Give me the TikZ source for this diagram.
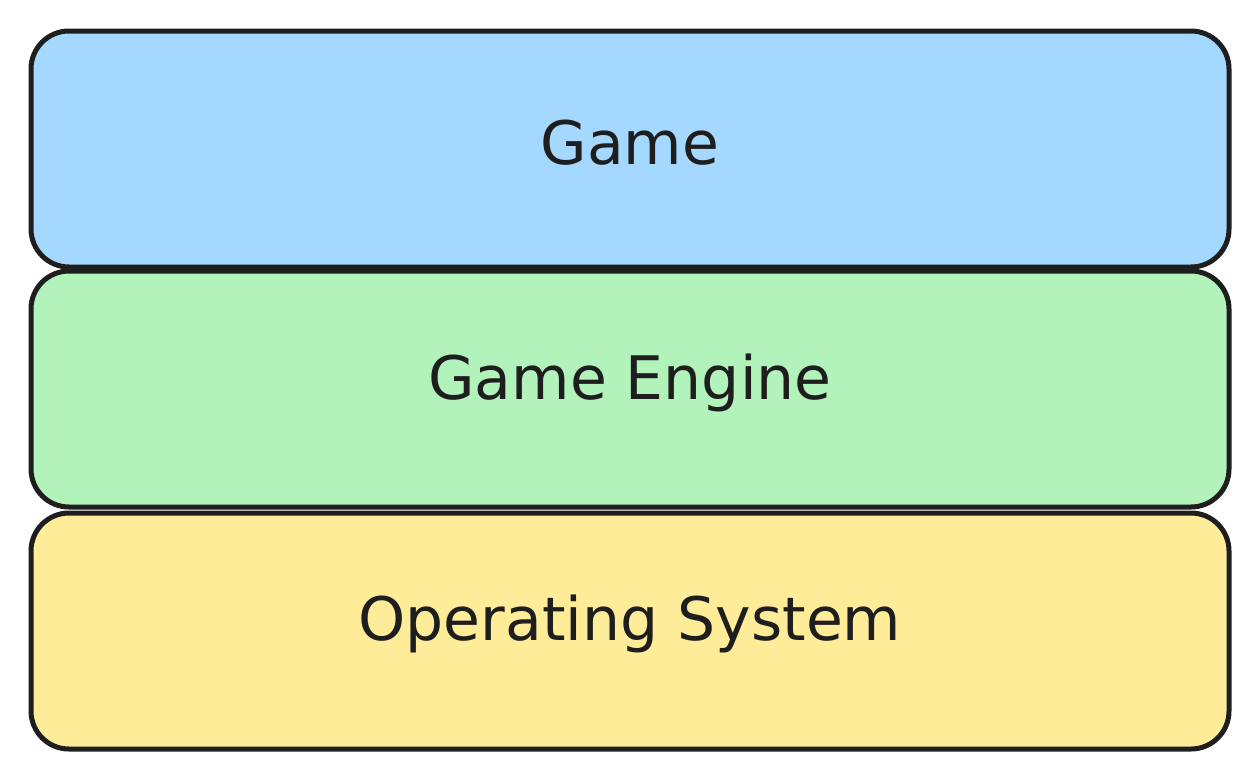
\documentclass[tikz,border=0pt]{standalone}
\usepackage{fontspec}
\setmainfont{DejaVu Sans}
\definecolor{bl}{HTML}{A5D8FF}
\definecolor{gr}{HTML}{B2F2BB}
\definecolor{ye}{HTML}{FFEC99}
\definecolor{ink}{HTML}{1E1E1E}
\begin{document}
\begin{tikzpicture}[x=1pt,y=-1pt,
  layer/.style={draw=ink,line width=5pt,rounded corners=38pt,minimum width=1198pt,minimum height=236pt,inner sep=0pt},
  lbl/.style={font=\fontsize{60}{64}\selectfont,text=ink,inner sep=0pt}]
\useasboundingbox (0,0) rectangle (1260,780);
\node[layer,fill=bl] (game) at (630,149) {};
\node[layer,fill=gr] (engine) at (630,389) {};
\node[layer,fill=ye] (os) at (630,631) {};
\node[lbl] (t1) at (630,143) {Game};
\node[lbl] (t2) at (630,383) {Game Engine};
\node[lbl] (t3) at (630,624) {Operating System};
\end{tikzpicture}
\end{document}
